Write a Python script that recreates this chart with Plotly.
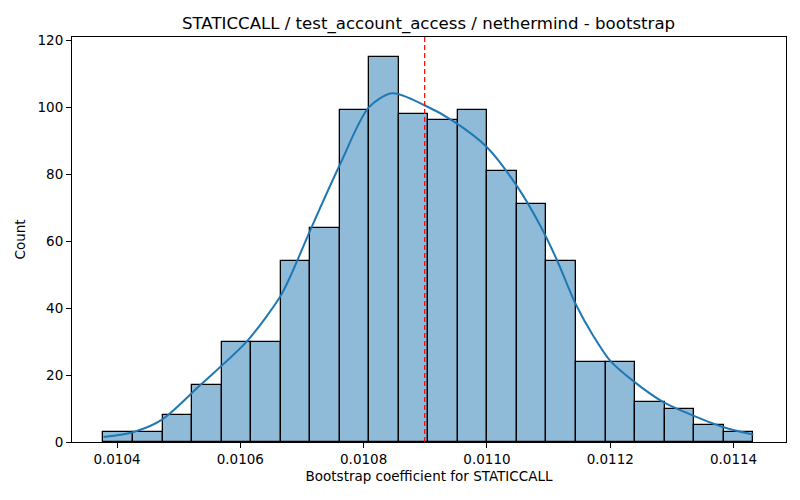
import numpy as np
import plotly.graph_objects as go

"""DATA"""
# histogram of bootstrap coefficients (22 equal bins)
bin_start = 0.010378
bin_width = 0.0000479
counts = [3, 3, 8, 17, 30, 30, 54, 64, 99, 115, 98, 96, 99, 81, 71, 54, 24, 24, 12, 10, 5, 3]

# kde curve
kde_x = [0.010378, 0.010427, 0.010473, 0.010535, 0.010611, 0.010665, 0.010681, 0.010716,
         0.010762, 0.010808, 0.010846, 0.010898, 0.010946, 0.011000, 0.011049, 0.011087,
         0.011114, 0.011143, 0.011173, 0.011200, 0.011238, 0.011286, 0.011324, 0.011384, 0.011432]
kde_y = [1.5, 3.0, 6.7, 17.0, 30.1, 43.5, 49.4, 64.3,
         83.0, 99.8, 104.1, 100.6, 95.7, 88.0, 76.3, 64.4,
         54.1, 41.5, 31.5, 24.2, 18.1, 11.9, 8.7, 4.4, 2.2]

# point estimate (red dashed line)
estimate = 0.010899

title = "STATICCALL / test_account_access / nethermind - bootstrap"
x_label = "Bootstrap coefficient for STATICCALL"
y_label = "Count"

"""PLOT"""
centers = bin_start + bin_width * (np.arange(len(counts)) + 0.5)

fig = go.Figure()
fig.add_trace(go.Bar(x=centers, y=counts, width=bin_width,
                     marker=dict(color="rgba(31,119,180,0.5)",
                                 line=dict(color="black", width=1.3)),
                     hoverinfo="x+y"))
fig.add_trace(go.Scatter(x=kde_x, y=kde_y, mode="lines",
                         line=dict(color="#1f77b4", width=2, shape="spline", smoothing=0.8)))
fig.add_vline(x=estimate, line=dict(color="red", width=1.2, dash="5px,3px"))

# page body has an 8px margin, so the figure is a bit smaller than the window
fig.update_layout(
    width=792, height=492,
    margin=dict(l=64, r=14, t=29, b=58),
    paper_bgcolor="white", plot_bgcolor="white",
    showlegend=False, bargap=0,
    font=dict(family="DejaVu Sans", size=13.5, color="black"),
    title=dict(text=title, x=0.531, xanchor="center", y=0.9695, yanchor="middle",
               font=dict(size=16.6)),
)
fig.update_xaxes(range=[0.010327, 0.011485], tickvals=[0.0104, 0.0106, 0.0108, 0.0110, 0.0112, 0.0114],
                 tickformat=".4f", ticks="outside", ticklen=5, tickcolor="black",
                 showline=True, linecolor="black", linewidth=1, mirror=True,
                 showgrid=False, zeroline=False, automargin=False,
                 title=dict(text=x_label, standoff=5, font=dict(size=13.5)))
fig.update_yaxes(range=[0, 120.9], tickvals=[0, 20, 40, 60, 80, 100, 120],
                 ticks="outside", ticklen=5, tickcolor="black",
                 showline=True, linecolor="black", linewidth=1, mirror=True,
                 showgrid=False, zeroline=False, automargin=False,
                 title=dict(text=y_label, standoff=8, font=dict(size=13.5)))

fig.write_html("out.html")
